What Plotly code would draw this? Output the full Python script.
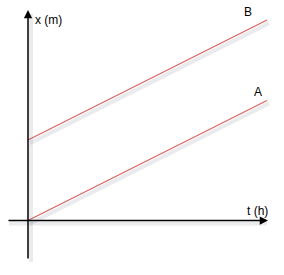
import plotly.graph_objects as go

# Data (time in h, position in m)
t_values = [0, 10]
x_A = [0, 5.0]
x_B = [3.35, 8.35]
series_names = ["A", "B"]
axis_labels = ["t (h)", "x (m)"]

W, H = 284, 275
ox, oy = 28, 220.5        # origin in pixels
sx, sy = 23.9, 24.0       # pixels per unit

def tx(px):
    return (px - ox) / sx

def ty(py):
    return (oy - py) / sy

fig = go.Figure()

line_color = "#d9605f"
shadow = "rgba(60,60,90,0.10)"

# soft shadows of the lines
for ys in (x_A, x_B):
    fig.add_trace(go.Scatter(x=[t + 2 / sx for t in t_values], y=[v - 3 / sy for v in ys],
                             mode="lines", line=dict(color=shadow, width=4),
                             hoverinfo="skip", showlegend=False))

for name, ys in zip(series_names, (x_A, x_B)):
    fig.add_trace(go.Scatter(x=t_values, y=ys, mode="lines", name=name,
                             line=dict(color=line_color, width=1.1),
                             showlegend=False))

# axis shadows
fig.add_shape(type="line", x0=tx(9), y0=ty(223.5), x1=tx(267), y1=ty(223.5),
              line=dict(color=shadow, width=4))
fig.add_shape(type="line", x0=tx(31), y0=ty(262), x1=tx(31), y1=ty(14),
              line=dict(color=shadow, width=4))

# axes with arrows
fig.add_annotation(x=tx(268), y=0, ax=tx(7), ay=0, xref="x", yref="y",
                   axref="x", ayref="y", showarrow=True, arrowhead=2,
                   arrowsize=1.1, arrowwidth=1.5, arrowcolor="black", text="")
fig.add_annotation(x=0, y=ty(10), ax=0, ay=ty(260), xref="x", yref="y",
                   axref="x", ayref="y", showarrow=True, arrowhead=2,
                   arrowsize=1.1, arrowwidth=1.5, arrowcolor="black", text="")

font = dict(family="Liberation Sans, Arial, sans-serif", size=12, color="black")
labels = [
    (axis_labels[1], 33, 20, "left"),
    (axis_labels[0], 257, 211, "center"),
    (series_names[1], 248, 12, "center"),
    (series_names[0], 258, 92, "center"),
]
for txt, px, py, anchor in labels:
    fig.add_annotation(x=tx(px), y=ty(py), text=txt, showarrow=False,
                       xanchor=anchor, yanchor="middle", font=font)

fig.update_xaxes(range=[tx(0), tx(W)], visible=False, fixedrange=True)
fig.update_yaxes(range=[ty(H), ty(0)], visible=False, fixedrange=True)
fig.update_layout(width=W, height=H, margin=dict(l=0, r=0, t=0, b=0),
                  paper_bgcolor="white", plot_bgcolor="white")

fig.write_html("out.html", config={"displayModeBar": False})
